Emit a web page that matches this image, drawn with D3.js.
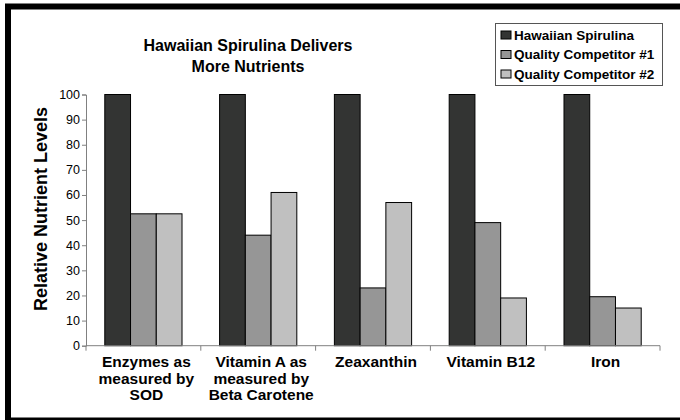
<!DOCTYPE html>
<html>
<head>
<meta charset="utf-8">
<script src="https://cdn.jsdelivr.net/npm/d3@7"></script>
<style>
  body { margin: 0; background: #fff; }
  svg { display: block; font-family: Arial, "Liberation Sans", sans-serif; }
</style>
</head>
<body>
<script>
'use strict';
(function () {
  let categories = [
    ["Enzymes as", "measured by", "SOD"],
    ["Vitamin A as", "measured by", "Beta Carotene"],
    ["Zeaxanthin"],
    ["Vitamin B12"],
    ["Iron"]
  ];
  let seriesNames = ["Hawaiian Spirulina", "Quality Competitor #1", "Quality Competitor #2"];
  let spirulina = [100, 100, 100, 100, 100];
  let competitor1 = [52.5, 44, 23, 49, 19.5];
  let competitor2 = [52.5, 61, 57, 19, 15];
  let yTicks = [0, 10, 20, 30, 40, 50, 60, 70, 80, 90, 100];
  let colors = ["#333433", "#969696", "#c0c0c0"];

  let svg = d3.select('body')
    .append('svg')
    .attr('width', 680)
    .attr('height', 420);

  svg.append('rect')
    .attr('width', 680).attr('height', 420)
    .attr('fill', '#fff');

  // thick frame (left, top, bottom)
  svg.append('rect')
    .attr('x', 8).attr('y', 6.5)
    .attr('width', 700).attr('height', 414)
    .attr('fill', 'none')
    .attr('stroke', '#000')
    .attr('stroke-width', 6);

  let keys = categories.map((c, i) => i);
  let table = keys.map((i) => [spirulina[i], competitor1[i], competitor2[i]]);

  let x = d3.scaleBand().domain(keys).range([86, 660]).padding(0);
  let xs = d3.scaleBand().domain([0, 1, 2]).range([0, x.bandwidth()])
    .paddingInner(0).paddingOuter(0.73);
  let y = d3.scaleLinear().domain([0, 100]).range([345.7, 94.5]);

  // bars
  let groups = svg.append('g').selectAll('g')
    .data(table)
    .enter()
    .append('g')
    .attr('transform', (d, i) => 'translate(' + x(i) + ',0)');
  groups.selectAll('rect')
    .data((d) => d)
    .enter()
    .append('rect')
    .attr('x', (d, j) => xs(j))
    .attr('y', (d) => y(d))
    .attr('width', xs.bandwidth())
    .attr('height', (d) => y(0) - y(d))
    .attr('fill', (d, j) => colors[j])
    .attr('stroke', '#000')
    .attr('stroke-width', 1);

  // y axis
  let yAxis = d3.axisLeft(y).tickValues(yTicks).tickSize(4).tickPadding(2);
  let yg = svg.append('g')
    .attr('transform', 'translate(86,0)')
    .call(yAxis);
  yg.select('.domain').attr('stroke', '#808080');
  yg.selectAll('.tick line').attr('stroke', '#808080');
  yg.selectAll('.tick text')
    .attr('fill', '#000')
    .style('font-size', '12.5px')
    .style('font-family', 'Arial, "Liberation Sans", sans-serif');

  // x axis
  let xg = svg.append('g')
    .attr('transform', 'translate(0,' + y(0) + ')');
  xg.append('line')
    .attr('x1', x.range()[0]).attr('x2', x.range()[1])
    .attr('stroke', '#808080');
  let bounds = keys.map((k) => x(k)).concat([x.range()[1]]);
  xg.selectAll('line.tk')
    .data(bounds)
    .enter()
    .append('line')
    .attr('class', 'tk')
    .attr('x1', (d) => d).attr('x2', (d) => d)
    .attr('y1', 0).attr('y2', 5)
    .attr('stroke', '#808080');

  let labels = svg.append('g').selectAll('text')
    .data(categories)
    .enter()
    .append('text')
    .attr('text-anchor', 'middle')
    .style('font-size', '15.5px')
    .style('font-weight', 'bold');
  labels.selectAll('tspan')
    .data((d, i) => d.map((line) => ({ line: line, i: i })))
    .enter()
    .append('tspan')
    .attr('x', (d) => x(d.i) + x.bandwidth() / 2 + 3)
    .attr('y', (d, j) => 367 + j * 16.5)
    .text((d) => d.line);

  // y label
  svg.append('text')
    .attr('transform', 'translate(47, 209)rotate(-90)')
    .attr('text-anchor', 'middle')
    .style('font-size', '18px')
    .style('font-weight', 'bold')
    .text('Relative Nutrient Levels');

  // title
  let title = svg.append('text')
    .attr('text-anchor', 'middle')
    .style('font-size', '16px')
    .style('font-weight', 'bold');
  title.append('tspan').attr('x', 248).attr('y', 50.7).text('Hawaiian Spirulina Delivers');
  title.append('tspan').attr('x', 248).attr('y', 71.7).text('More Nutrients');

  // legend
  let legend = svg.append('g');
  legend.append('rect')
    .attr('x', 495.5).attr('y', 23.5)
    .attr('width', 167).attr('height', 62)
    .attr('fill', '#fff')
    .attr('stroke', '#555')
    .attr('stroke-width', 1);
  let items = legend.selectAll('g')
    .data(seriesNames)
    .enter()
    .append('g')
    .attr('transform', (d, i) => 'translate(0,' + (i * 19.5) + ')');
  items.append('rect')
    .attr('x', 501).attr('y', 31)
    .attr('width', 10).attr('height', 8)
    .attr('fill', (d, i) => colors[i])
    .attr('stroke', '#000');
  items.append('text')
    .attr('x', 514).attr('y', 39.5)
    .style('font-size', '13.5px')
    .style('font-weight', 'bold')
    .text((d) => d);
})();
</script>
</body>
</html>
